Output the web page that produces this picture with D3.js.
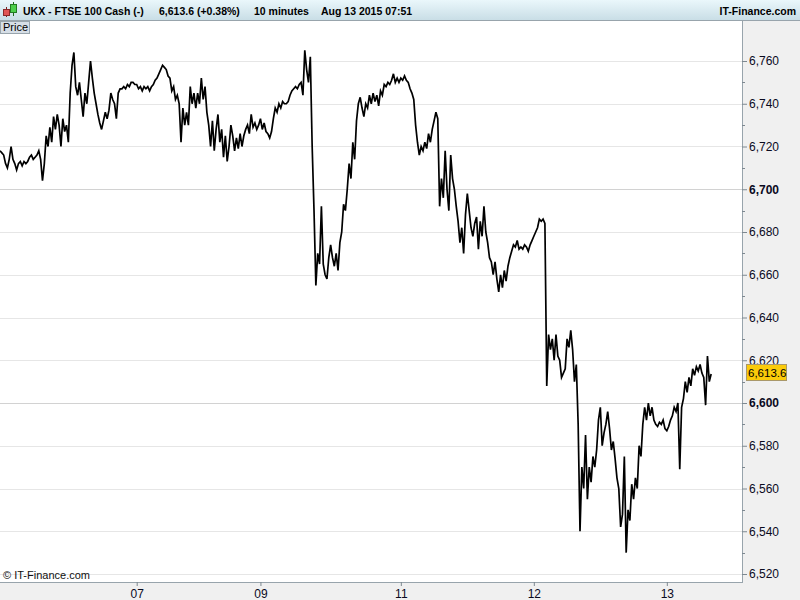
<!DOCTYPE html>
<html>
<head>
<meta charset="utf-8">
<script src="https://cdn.jsdelivr.net/npm/d3@7"></script>
<style>
  body { margin: 0; background: #fff; }
  svg { display: block; font-family: "Liberation Sans", Arial, sans-serif; }
</style>
</head>
<body>
<svg id="chart" width="800" height="600"></svg>
<script>
// ---- data (20-minute steps) ----
var symbol = "UKX - FTSE 100 Cash (-)";
var lastPrice = 6613.6;
var change = "+0.38%";
var period = "10 minutes";
var stamp = "Aug 13 2015 07:51";

var closes = [
  6718,6717,6716,6712,6710,6714,6720,6714,6712,6709,
  6712,6713,6711,6713,6712,6713,6715,6716,6714,6715,
  6716,6718,6714,6704,6712,6725,6720,6729,6722,6734,
  6728,6735,6730,6720,6733,6727,6730,6722,6745,6758,
  6764,6748,6744,6750,6742,6734,6745,6740,6750,6760,
  6752,6745,6740,6735,6731,6728,6732,6736,6733,6737,
  6745,6742,6740,6733,6745,6747,6747,6748,6747,6749,
  6748,6750,6750,6749,6749,6747,6748,6746,6748,6747,
  6748,6746,6748,6749,6751,6752,6754,6756,6758,6757,
  6756,6753,6752,6746,6748,6742,6744,6740,6722,6738,
  6730,6736,6730,6748,6740,6745,6738,6745,6740,6752,
  6742,6748,6736,6730,6720,6732,6718,6728,6735,6722,
  6728,6715,6725,6713,6720,6730,6725,6718,6724,6719,
  6726,6720,6725,6728,6730,6726,6735,6729,6731,6728,
  6730,6733,6728,6731,6727,6726,6724,6727,6733,6738,
  6736,6740,6738,6741,6740,6740,6741,6744,6746,6747,
  6748,6747,6749,6750,6744,6765,6756,6750,6762,6720,
  6690,6655,6670,6665,6692,6665,6660,6658,6668,6674,
  6668,6664,6670,6662,6675,6680,6693,6690,6700,6712,
  6705,6722,6714,6732,6740,6743,6738,6734,6740,6738,
  6744,6740,6745,6741,6744,6739,6746,6744,6749,6748,
  6750,6749,6751,6754,6750,6752,6750,6752,6751,6753,
  6751,6750,6747,6745,6742,6730,6722,6716,6720,6718,
  6722,6719,6726,6722,6728,6732,6736,6733,6692,6705,
  6696,6718,6700,6690,6716,6705,6700,6692,6685,6675,
  6682,6670,6688,6698,6690,6682,6678,6684,6687,6672,
  6685,6678,6692,6680,6675,6668,6666,6660,6666,6658,
  6652,6660,6654,6662,6657,6664,6668,6671,6674,6673,
  6676,6672,6673,6672,6674,6673,6671,6674,6676,6678,
  6680,6682,6686,6685,6686,6684,6608,6632,6625,6630,
  6620,6632,6622,6620,6612,6614,6616,6630,6626,6634,
  6625,6610,6618,6590,6540,6570,6560,6585,6555,6570,
  6563,6575,6570,6578,6592,6598,6580,6586,6590,6596,
  6588,6578,6582,6574,6565,6560,6542,6548,6575,6530,
  6550,6545,6562,6555,6565,6560,6580,6575,6590,6598,
  6592,6600,6594,6598,6592,6590,6589,6591,6590,6592,
  6588,6587,6589,6592,6594,6598,6596,6600,6569,6598,
  6602,6610,6605,6612,6608,6616,6613,6617,6615,6618,
  6614,6612,6599,6622,6610,6613.6
];

var dayLabels = ["07", "09", "11", "12", "13"];
var dayIndex = [74, 141, 217, 289, 361];
var yTickValues = [6520, 6540, 6560, 6580, 6600, 6620, 6640, 6660, 6680, 6700, 6720, 6740, 6760];
var boldTicks = [6600, 6700];

// ---- layout ----
var svg = d3.select("#chart"),
    W = 800, H = 600,
    plot = {left: 0, top: 21, right: 742, bottom: 582};

var x = d3.scaleLinear().domain([0, 401.7]).range([plot.left, plot.right]);
var y = d3.scaleLinear().domain([6520, 6760]).range([574, 61]);

var defs = svg.append("defs");
var grad = defs.append("linearGradient").attr("id", "hdr").attr("x1", 0).attr("y1", 0).attr("x2", 0).attr("y2", 1);
grad.append("stop").attr("offset", "0%").attr("stop-color", "#eaf7fb");
grad.append("stop").attr("offset", "100%").attr("stop-color", "#c9dee6");
defs.append("clipPath").attr("id", "clip")
  .append("rect").attr("x", plot.left).attr("y", plot.top)
  .attr("width", plot.right - plot.left).attr("height", plot.bottom - plot.top);

// backgrounds
svg.append("rect").attr("width", W).attr("height", H).attr("fill", "#f0f0f0");
svg.append("rect").attr("x", plot.left).attr("y", plot.top)
  .attr("width", plot.right - plot.left).attr("height", plot.bottom - plot.top)
  .attr("fill", "#fff");

// gridlines
svg.append("g").selectAll("line").data(yTickValues).enter().append("line")
  .attr("x1", plot.left).attr("x2", plot.right)
  .attr("y1", function(d) { return Math.round(y(d)) + 0.5; })
  .attr("y2", function(d) { return Math.round(y(d)) + 0.5; })
  .attr("stroke", function(d) { return boldTicks.indexOf(d) >= 0 ? "#d2d2d2" : "#e6e6e6"; });

// price line
var line = d3.line()
  .x(function(d, i) { return x(i); })
  .y(function(d) { return y(d); });

svg.append("path")
  .datum(closes)
  .attr("clip-path", "url(#clip)")
  .attr("fill", "none")
  .attr("stroke", "#000")
  .attr("stroke-width", 1.7)
  .attr("stroke-linejoin", "miter")
  .attr("d", line);

// borders
svg.append("line").attr("x1", plot.right + 0.5).attr("x2", plot.right + 0.5)
  .attr("y1", plot.top).attr("y2", plot.bottom + 1).attr("stroke", "#98a4ac");
svg.append("line").attr("x1", 0).attr("x2", plot.right + 1)
  .attr("y1", plot.bottom + 0.5).attr("y2", plot.bottom + 0.5).attr("stroke", "#98a4ac");

// y axis (right)
var yAxis = svg.append("g")
  .attr("transform", "translate(" + plot.right + ",0)")
  .call(d3.axisRight(y).tickValues(yTickValues).tickSize(5).tickPadding(2).tickFormat(d3.format(",")));
yAxis.select(".domain").remove();
yAxis.selectAll(".tick line").attr("stroke", "#7d8890");
yAxis.selectAll(".tick text")
  .attr("fill", "#0a0a1e")
  .style("font-size", "12px")
  .style("font-family", "'Liberation Sans', Arial, sans-serif")
  .style("font-weight", function(d) { return boldTicks.indexOf(d) >= 0 ? "bold" : "normal"; });

// minor ticks
svg.append("g").selectAll("line").data(yTickValues.slice(0, -1)).enter().append("line")
  .attr("x1", plot.right).attr("x2", plot.right + 3)
  .attr("y1", function(d) { return Math.round(y(d + 10)) + 0.5; })
  .attr("y2", function(d) { return Math.round(y(d + 10)) + 0.5; })
  .attr("stroke", "#7d8890");

// x axis (bottom)
var xAxis = svg.append("g")
  .attr("transform", "translate(0," + plot.bottom + ")")
  .call(d3.axisBottom(x).tickValues(dayIndex).tickSize(4).tickPadding(3)
    .tickFormat(function(d, i) { return dayLabels[i]; }));
xAxis.select(".domain").remove();
xAxis.selectAll(".tick line").attr("stroke", "#7d8890");
xAxis.selectAll(".tick text")
  .attr("fill", "#0a0a1e")
  .style("font-size", "12px")
  .style("font-family", "'Liberation Sans', Arial, sans-serif");

// current price marker
var py = y(lastPrice);
svg.append("rect")
  .attr("x", 746.5).attr("y", Math.round(py) - 9.5)
  .attr("width", 40).attr("height", 16)
  .attr("fill", "#fbcb0a").attr("stroke", "#a9986a");
svg.append("text")
  .attr("x", 748).attr("y", Math.round(py) + 3)
  .attr("font-size", "11.5px").attr("fill", "#000")
  .text(d3.format(",.1f")(lastPrice));

// copyright
svg.append("text")
  .attr("x", 3).attr("y", 579)
  .attr("font-size", "11px").attr("fill", "#111")
  .text("\u00a9 IT-Finance.com");

// header
svg.append("rect").attr("width", W).attr("height", 20).attr("fill", "url(#hdr)");
svg.append("line").attr("x1", 0).attr("x2", W).attr("y1", 20.5).attr("y2", 20.5).attr("stroke", "#98a4ac");

// candle icon
var icon = svg.append("g");
icon.append("line").attr("x1", 6.5).attr("x2", 6.5).attr("y1", 7).attr("y2", 17).attr("stroke", "#7a2020");
icon.append("rect").attr("x", 3.5).attr("y", 9.5).attr("width", 6).attr("height", 6)
  .attr("fill", "#e05555").attr("stroke", "#8a2a2a");
icon.append("line").attr("x1", 13.5).attr("x2", 13.5).attr("y1", 2).attr("y2", 16).attr("stroke", "#1f6a1f");
icon.append("rect").attr("x", 10.5).attr("y", 4.5).attr("width", 6).attr("height", 8)
  .attr("fill", "#4ccf4c").attr("stroke", "#237a23");

var hdr = svg.append("g").attr("font-size", "10.5px").attr("font-weight", "bold").attr("fill", "#000")
  .attr("font-family", "'Liberation Sans', Arial, sans-serif");
hdr.append("text").attr("x", 23).attr("y", 14.5).text(symbol);
hdr.append("text").attr("x", 159).attr("y", 14.5)
  .text(d3.format(",.1f")(lastPrice) + " (" + change + ")");
hdr.append("text").attr("x", 254).attr("y", 14.5).text(period);
hdr.append("text").attr("x", 321).attr("y", 14.5).text(stamp);
hdr.append("text").attr("x", 796).attr("y", 14.5).attr("text-anchor", "end").text("IT-Finance.com");

// "Price" tab
svg.append("rect").attr("x", 0.5).attr("y", 21.5).attr("width", 29).attr("height", 12)
  .attr("fill", "#d6dee6").attr("stroke", "#98a4ac");
svg.append("text").attr("x", 3).attr("y", 31).attr("font-size", "11px").attr("fill", "#000").text("Price");
</script>
</body>
</html>
